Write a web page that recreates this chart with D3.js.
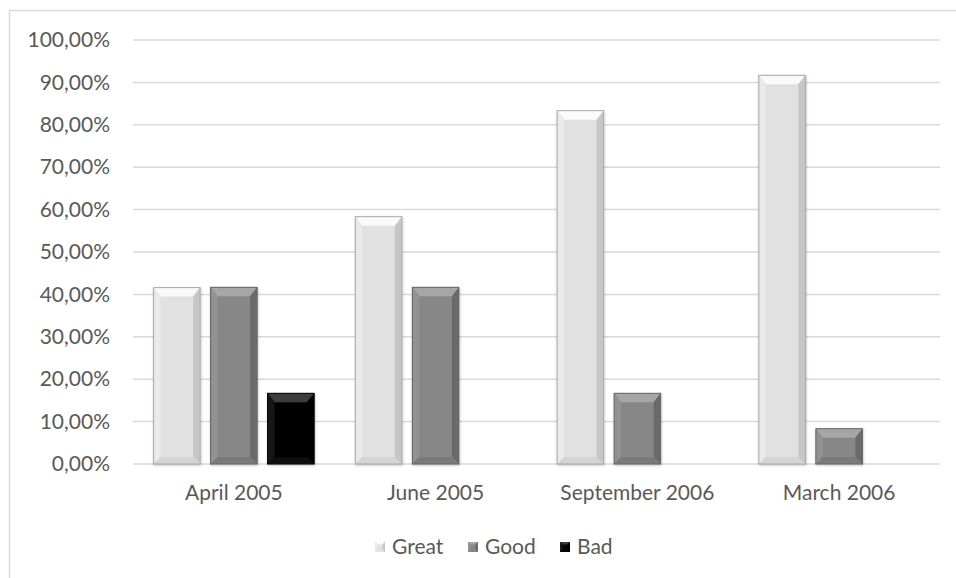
<!DOCTYPE html>
<html>
<head>
<meta charset="utf-8">
<script src="https://cdn.jsdelivr.net/npm/d3@7"></script>
<style>
  html, body { margin: 0; padding: 0; background: #fff; }
  svg { display: block; }
  text { font-family: Lato, "Open Sans", sans-serif; fill: #595959; }
</style>
</head>
<body>
<div id="chart"></div>
<script>
// Survey results per period
const categories = ["April 2005", "June 2005", "September 2006", "March 2006"];
const seriesNames = ["Great", "Good", "Bad"];
const great = [41.6, 58.33, 83.33, 91.67];
const good = [41.67, 41.67, 16.67, 8.33];
const bad = [16.67, 0, 0, 0];
const yTicks = [0, 10, 20, 30, 40, 50, 60, 70, 80, 90, 100];

const seriesValues = [great, good, bad];

// Face colours for each series: base, top facet, side facets, outline
const palette = {
  Great: { base: "#e1e1e1", top: "#fafafa", left: "#eaeaea", right: "#c6c6c6", bottom: "#d4d4d4", stroke: "#a9a9a9" },
  Good:  { base: "#878787", top: "#a6a6a6", left: "#929292", right: "#6b6b6b", bottom: "#7a7a7a", stroke: "#666666" },
  Bad:   { base: "#060606", top: "#3c3c3c", left: "#181818", right: "#000000", bottom: "#101010", stroke: "#000000" }
};

const W = 956, H = 578;
const margin = { left: 133, right: 16, top: 40, bottom: 114 };
const fontSize = "21px";

const svg = d3.select("#chart").append("svg")
  .attr("width", W).attr("height", H);

const defs = svg.append("defs");
const shadow = defs.append("filter").attr("id", "barShadow")
  .attr("x", "-20%").attr("y", "-20%").attr("width", "140%").attr("height", "140%");
shadow.append("feDropShadow").attr("dx", 0.5).attr("dy", 1)
  .attr("stdDeviation", 1.2).attr("flood-color", "#000").attr("flood-opacity", 0.25);

// Chart frame
svg.append("rect")
  .attr("x", 9.5).attr("y", 10.5)
  .attr("width", W + 20).attr("height", H + 20)
  .attr("fill", "none").attr("stroke", "#d9d9d9").attr("stroke-width", 1.5);

const x = d3.scaleBand().domain(categories)
  .range([margin.left, W - margin.right]).paddingInner(0).paddingOuter(0);
const groupPad = 20.6;
const x1 = d3.scaleBand().domain(seriesNames)
  .range([groupPad, x.bandwidth() - groupPad]).paddingInner(0.184).paddingOuter(0);
const y = d3.scaleLinear().domain([0, 100]).range([H - margin.bottom, margin.top]);

// Gridlines
svg.append("g").selectAll("line").data(yTicks).join("line")
  .attr("x1", margin.left).attr("x2", W - margin.right)
  .attr("y1", d => y(d)).attr("y2", d => y(d))
  .attr("stroke", "#d9d9d9").attr("stroke-width", 1.5);

// Y axis labels
const fmt = v => v.toFixed(2).replace(".", ",") + "%";
const yAxis = d3.axisLeft(y).tickValues(yTicks).tickFormat(fmt).tickSize(0).tickPadding(23);
const gy = svg.append("g").attr("transform", `translate(${margin.left},0)`).call(yAxis);
gy.select(".domain").remove();
gy.attr("font-size", null).attr("font-family", null);
gy.selectAll("text").style("font-size", fontSize).attr("fill", "#595959");

// X axis labels
const xAxis = d3.axisBottom(x).tickSize(0).tickPadding(21);
const gx = svg.append("g").attr("transform", `translate(0,${y(0)})`).call(xAxis);
gx.select(".domain").remove();
gx.attr("font-size", null).attr("font-family", null);
gx.selectAll("text").style("font-size", fontSize).attr("fill", "#595959");

// Bevelled bars
const bars = [];
categories.forEach((c, i) => {
  seriesNames.forEach((s, j) => {
    const v = seriesValues[j][i];
    if (v > 0) bars.push({ cat: c, series: s, value: v });
  });
});

const bevel = 7;
const barG = svg.append("g").selectAll("g").data(bars).join("g")
  .attr("filter", "url(#barShadow)");

barG.each(function(d) {
  const g = d3.select(this);
  const col = palette[d.series];
  const x0 = x(d.cat) + x1(d.series);
  const w = x1.bandwidth();
  const y0 = y(d.value);
  const y1 = y(0);
  const h = y1 - y0;
  const b = Math.min(bevel, h / 2, w / 2);
  const xi0 = x0 + b, xi1 = x0 + w - b, yi0 = y0 + b + 2, yi1 = y1 - b;
  const poly = pts => pts.map(p => p.join(",")).join(" ");

  g.append("rect").attr("x", x0).attr("y", y0).attr("width", w).attr("height", h)
    .attr("fill", col.base);
  g.append("polygon").attr("points", poly([[x0, y0], [x0 + w, y0], [xi1, yi0], [xi0, yi0]]))
    .attr("fill", col.top);
  g.append("polygon").attr("points", poly([[x0, y0], [xi0, yi0], [xi0, yi1], [x0, y1]]))
    .attr("fill", col.left);
  g.append("polygon").attr("points", poly([[x0 + w, y0], [x0 + w, y1], [xi1, yi1], [xi1, yi0]]))
    .attr("fill", col.right);
  g.append("polygon").attr("points", poly([[x0, y1], [xi0, yi1], [xi1, yi1], [x0 + w, y1]]))
    .attr("fill", col.bottom);
  g.append("rect").attr("x", x0).attr("y", y0).attr("width", w).attr("height", h)
    .attr("fill", "none").attr("stroke", col.stroke).attr("stroke-width", 1);
});

// Legend
const legendItems = [
  { name: "Great", x: 375 },
  { name: "Good", x: 468 },
  { name: "Bad", x: 560 }
];
const lg = svg.append("g").selectAll("g").data(legendItems).join("g")
  .attr("transform", d => `translate(${d.x},542)`);
lg.each(function(d) {
  const g = d3.select(this);
  const col = palette[d.name];
  const s = 10, b = 2.5;
  g.append("rect").attr("width", s).attr("height", s).attr("fill", col.base);
  g.append("polygon").attr("points", `0,0 ${s},0 ${s - b},${b} ${b},${b}`).attr("fill", col.top);
  g.append("polygon").attr("points", `${s},0 ${s},${s} ${s - b},${s - b} ${s - b},${b}`).attr("fill", col.right);
  g.append("polygon").attr("points", `0,0 ${b},${b} ${b},${s - b} 0,${s}`).attr("fill", col.left);
  g.append("text").attr("x", s + 7).attr("y", 12).text(d.name)
    .style("font-size", fontSize);
});
</script>
</body>
</html>
